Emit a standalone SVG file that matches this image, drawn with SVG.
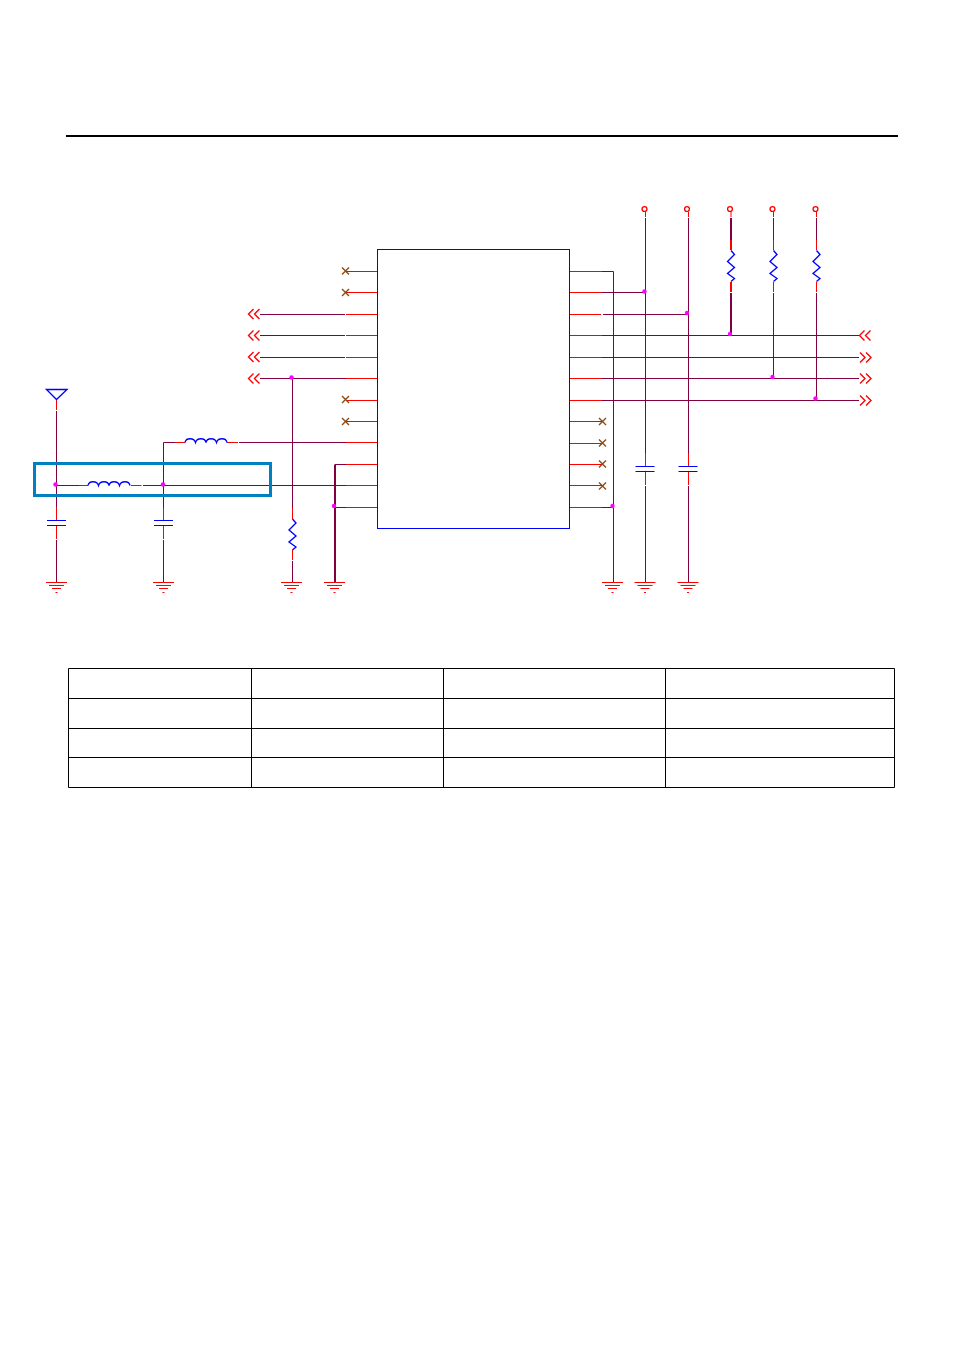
<svg xmlns="http://www.w3.org/2000/svg" width="955" height="1350" viewBox="0 0 955 1350">
<style>
.r{stroke:#f00;fill:none;stroke-width:1}
.s{stroke:#f00;fill:none;stroke-width:1.4}
.p{stroke:#800040;fill:none;stroke-width:1}
.pt{stroke:#800040;fill:none;stroke-width:2}
.rt{stroke:#f00;fill:none;stroke-width:2}
.b{stroke:#00f;fill:none;stroke-width:1}
.bs{stroke:#00f;fill:none;stroke-width:1.35}
.nc{stroke:#8b4a14;fill:none;stroke-width:1.4}
.k{stroke:#000;fill:none;stroke-width:1}
.d{fill:#f0f}
</style>
<defs>
<g id="gnd" class="r"><path d="M-10.5 0.5H10.5M-7.5 3.5H7.5M-4.5 6.5H4.5M-1 10.5H1"/></g>
<g id="capv" class="b"><path d="M-9.5 0H9.5M-9.5 5H9.5"/></g>
<path id="res" class="bs" d="M0 0L3.5 4L-3.5 11L3.5 17L-3.5 23L3.5 28L0 31"/>
<path id="ind" class="bs" d="M0 0C1 -5 9 -5 10.5 0C12 -5 20 -5 21 0C22 -5 30 -5 31.5 0C33 -5 41 -5 42 0"/>
<path id="x" class="nc" d="M-3.5 -3.5L3.5 3.5M-3.5 3.5L3.5 -3.5"/>
<path id="la" class="s" d="M5.5 -5L0.5 0L5.5 5M11.5 -5L6.5 0L11.5 5"/>
<path id="ra" class="s" d="M0.5 -5L5.5 0L0.5 5M6.5 -5L11.5 0L6.5 5"/>
<circle id="dot" class="d" r="2.2"/>
<circle id="pin" class="s" r="2.4"/>
</defs>
<path id="top-rule" d="M66 136H898" stroke="#000" stroke-width="2" fill="none"/>

<g id="connectors">
<path class="r" d="M346 271.5H377M346 292.5H377M346 314.5H377M346 335.5H377M346 357.5H377M346 378.5H377M346 400.5H377M346 421.5H377M346 442.5H377M346 464.5H377M346 485.5H377M346 507.5H377"/>
<path class="p" d="M260 314.5H345M260 335.5H345M260 357.5H345M260 378.5H346M239 442.5H346M143 485.5H346M335 464.5H346M334 507.5H346"/>
<path class="r" d="M570 271.5H602M570 292.5H602M570 314.5H601M570 335.5H602M570 357.5H602M570 378.5H602M570 400.5H602M570 421.5H602M570 443.5H602M570 464.5H602M570 485.5H602M570 507.5H602"/>
<path class="p" d="M602 271.5H613.5M602 292.5H645M603 314.5H688.5M602 335.5H859M602 357.5H859M602 378.5H859M602 400.5H859M602 507.5H613"/>
<path class="p" d="M613.5 271.5V582M645.5 218V453M645.5 486V582M688.5 218V453M688.5 486V582M773.5 218V240M773.5 293V378.5M816.5 218V240M816.5 293V400.5"/>
<path class="r" d="M645.5 212V217M645.5 453V466M645.5 471V485M688.5 212V217M688.5 453V466M688.5 471V485M731 212V217M773.5 212V217M773.5 240V250M773.5 282V292M816.5 212V217M816.5 240V250M816.5 282V292"/>
<path class="pt" d="M731 218V240M731 293V335"/>
<path class="rt" d="M731 240V250M731 282V292"/>
<path class="p" d="M56.5 411V507M56.5 540V582M163.5 442.5V508M163.5 540V582M292.5 378.5V508M292.5 561V582M163.5 442.5H175M56 485.5H79"/>
<path class="r" d="M56.5 399V410M56.5 507V520M56.5 525V539M163.5 508V520M163.5 525V539M292.5 508V519M292.5 550V560M175 442.5H185M227 442.5H238M79 485.5H88M131 485.5H141.5"/>
<path class="pt" d="M335 464.5V582"/>
</g>

<g id="U1"><rect class="b" x="377.5" y="249.5" width="192" height="279"/></g>

<g id="nc-left"><use href="#x" x="345.5" y="271"/><use href="#x" x="345.5" y="292.5"/><use href="#x" x="345.5" y="399.5"/><use href="#x" x="345.5" y="421.5"/></g>
<g id="nc-right"><use href="#x" x="602.5" y="421.5"/><use href="#x" x="602.5" y="443"/><use href="#x" x="602.5" y="464"/><use href="#x" x="602.5" y="486"/></g>

<g id="ports-left"><use href="#la" x="248" y="314"/><use href="#la" x="248" y="335.5"/><use href="#la" x="248" y="357"/><use href="#la" x="248" y="378.5"/></g>
<g id="ports-right"><use href="#la" x="859" y="335.5"/><use href="#ra" x="859.5" y="357.5"/><use href="#ra" x="859.5" y="378.5"/><use href="#ra" x="859.5" y="400.5"/></g>

<g id="antenna"><path class="bs" d="M46.5 389.5H67L56.5 399.5Z"/></g>
<g id="L1"><use href="#ind" x="88" y="485.5"/></g>
<g id="L2"><use href="#ind" x="185" y="442.5"/></g>
<g id="C1"><use href="#capv" x="56.5" y="520.5"/></g>
<g id="C2"><use href="#capv" x="163.5" y="520.5"/></g>
<g id="C3"><use href="#capv" x="645" y="466.5"/></g>
<g id="C4"><use href="#capv" x="688" y="466.5"/></g>
<g id="R1"><use href="#res" x="292.5" y="519"/></g>
<g id="R2"><use href="#res" x="731" y="250.5"/></g>
<g id="R3"><use href="#res" x="773.5" y="250.5"/></g>
<g id="R4"><use href="#res" x="816.5" y="250.5"/></g>

<g id="grounds"><use href="#gnd" x="56.5" y="582"/><use href="#gnd" x="163.5" y="582"/><use href="#gnd" x="291.5" y="582"/><use href="#gnd" x="334.5" y="582"/><use href="#gnd" x="612.5" y="582"/><use href="#gnd" x="645" y="582"/><use href="#gnd" x="688" y="582"/></g>
<g id="terminals"><use href="#pin" x="644.5" y="209"/><use href="#pin" x="687" y="209"/><use href="#pin" x="730" y="209"/><use href="#pin" x="772.5" y="209"/><use href="#pin" x="815.5" y="209"/></g>
<g id="junctions"><use href="#dot" x="55.5" y="484.5"/><use href="#dot" x="163" y="484.5"/><use href="#dot" x="291.5" y="377.5"/><use href="#dot" x="334" y="506"/><use href="#dot" x="612.5" y="506"/><use href="#dot" x="644.5" y="291.5"/><use href="#dot" x="687" y="313"/><use href="#dot" x="730" y="334"/><use href="#dot" x="772.5" y="377"/><use href="#dot" x="815.5" y="398.5"/></g>

<g id="highlight"><rect x="34.5" y="463.5" width="236" height="32" fill="none" stroke="#0080c0" stroke-width="3"/></g>

<g id="table"><path class="k" d="M68.5 668.5H894.5V787.5H68.5ZM68.5 698.5H894.5M68.5 728.5H894.5M68.5 757.5H894.5M251.5 668.5V787.5M443.5 668.5V787.5M665.5 668.5V787.5"/></g>
</svg>
